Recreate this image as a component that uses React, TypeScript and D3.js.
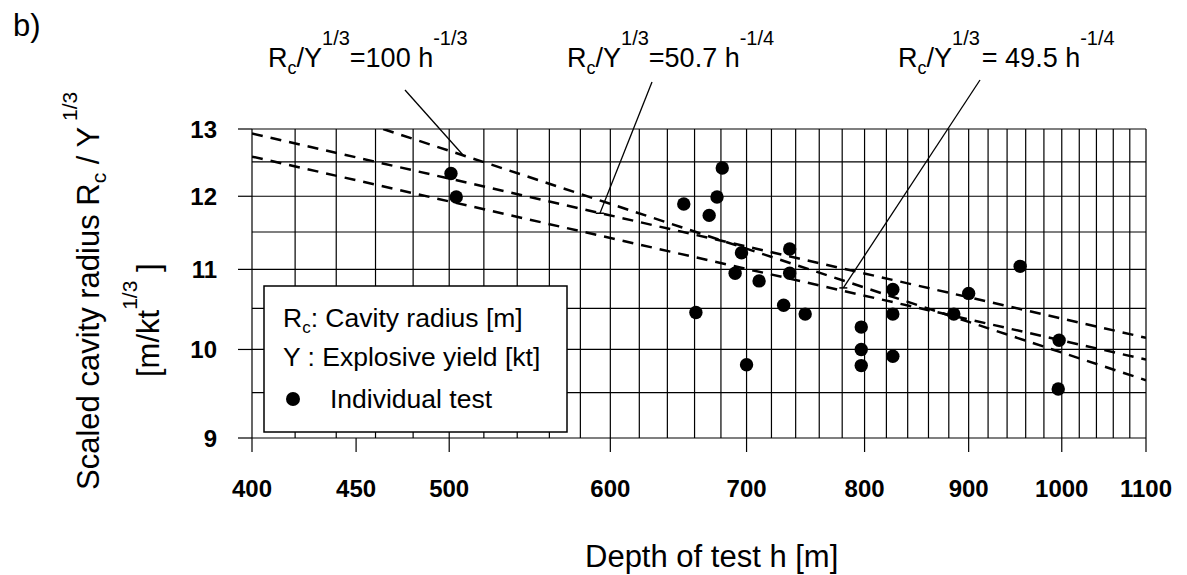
import React from 'react';
import * as d3 from 'd3';

const W = 1187;
const H = 575;

// axis ticks (labels)
const depthTicks = [400, 450, 500, 600, 700, 800, 900, 1000, 1100];
const radiusTicks = [9, 10, 11, 12, 13];
const depthGrid = d3.range(400, 1101, 20);
const radiusGrid = d3.range(9, 13.01, 0.5);

// individual tests
const testDepth = [501, 504, 652, 681, 677, 671, 696, 735, 691, 735, 710, 661, 730, 748, 700, 797, 797, 797, 826, 826, 826, 885, 900, 954, 997, 996];
const testRadius = [12.33, 11.99, 11.89, 12.41, 11.99, 11.73, 11.22, 11.27, 10.95, 10.95, 10.85, 10.45, 10.54, 10.43, 9.82, 10.27, 10.0, 9.81, 10.74, 10.43, 9.92, 10.43, 10.69, 11.04, 10.11, 9.54];

// fitted relations (end points)
const fitConst = ['100', '50.7', '49.5'];
const fitExp = ['-1/3', '-1/4', '-1/4'];
const fitDepth = [[464, 1100], [400, 1100], [400, 1100]];
const fitRadius = [[13.0, 9.64], [12.93, 10.14], [12.58, 9.88]];
// where each leader line touches its relation
const leaderDepth = [508, 593, 781];
const leaderRadius = [12.6, 11.76, 10.76];

const FONT = '"Liberation Sans", Arial, Helvetica, sans-serif';

export default function App() {
  const x = d3.scaleLog().domain([400, 1100]).range([252, 1146]);
  const y = d3.scaleLog().domain([9, 13]).range([438, 129]);
  const [x0, x1] = x.range();
  const [y0, y1] = y.range();

  const line = d3
    .line<[number, number]>()
    .x((d) => x(d[0]))
    .y((d) => y(d[1]));

  const labelPos = [
    { lx: 268, ly: 67, sx: 405, sy: 90 },
    { lx: 567, ly: 67, sx: 652, sy: 82 },
    { lx: 898, ly: 67, sx: 980, sy: 80 },
  ];

  return (
    <div style={{ position: 'absolute', left: 0, top: 0 }}>
      <svg width={W} height={H} style={{ display: 'block', background: '#fff' }} fontFamily={FONT}>
        <defs>
          <clipPath id="plotClip">
            <rect x={x0} y={y1} width={x1 - x0} height={y0 - y1} />
          </clipPath>
        </defs>

        <text x={13} y={36} fontSize={31}>b)</text>

        {/* grid */}
        <g stroke="#000" strokeWidth={1.2}>
          {depthGrid.map((d) => (
            <line key={'v' + d} x1={x(d)} x2={x(d)} y1={y1} y2={y0} />
          ))}
          {radiusGrid.map((r) => (
            <line key={'h' + r} x1={x0} x2={x1} y1={y(r)} y2={y(r)} />
          ))}
          {depthTicks.map((d) => (
            <line key={'tx' + d} x1={x(d)} x2={x(d)} y1={y0} y2={y0 + 14} />
          ))}
          {radiusTicks.map((r) => (
            <line key={'ty' + r} x1={x0 - 14} x2={x0} y1={y(r)} y2={y(r)} />
          ))}
        </g>

        {/* tick labels */}
        <g fontSize={24} fontWeight="bold" fill="#000">
          {depthTicks.map((d) => (
            <text key={'lx' + d} x={x(d)} y={497} textAnchor="middle">{d}</text>
          ))}
          {radiusTicks.map((r) => (
            <text key={'ly' + r} x={217} y={y(r) + 8.5} textAnchor="end">{r}</text>
          ))}
        </g>

        {/* fitted relations */}
        <g clipPath="url(#plotClip)" fill="none" stroke="#000" strokeWidth={2.5} strokeDasharray="11 8">
          {fitDepth.map((hs, i) => (
            <path key={'fit' + i} d={line(hs.map((h, j) => [h, fitRadius[i][j]] as [number, number])) || ''} />
          ))}
        </g>

        {/* points */}
        <g fill="#000">
          {testDepth.map((h, i) => (
            <circle key={'p' + i} cx={x(h)} cy={y(testRadius[i])} r={6.7} />
          ))}
        </g>

        {/* legend */}
        <rect x={264} y={286} width={303} height={146} fill="#fff" stroke="#000" strokeWidth={1.5} />
        <text x={283} y={327} fontSize={26.5}>
          R<tspan dy={6} fontSize={17}>c</tspan><tspan dy={-6}>: Cavity radius [m]</tspan>
        </text>
        <text x={283} y={366} fontSize={26.5}>Y : Explosive yield [kt]</text>
        <circle cx={293} cy={399} r={7} fill="#000" />
        <text x={330} y={408} fontSize={26.5}>Individual test</text>

        {/* annotations */}
        {labelPos.map((p, i) => {
          const ex = x(leaderDepth[i]);
          const ey = y(leaderRadius[i]);
          return (
            <g key={'ann' + i}>
              <line x1={p.sx} y1={p.sy} x2={ex} y2={ey} stroke="#000" strokeWidth={1.3} />
              {i > 0 && <line x1={ex - 4} x2={ex + 4} y1={ey} y2={ey} stroke="#000" strokeWidth={1.5} />}
              <text x={p.lx} y={p.ly} fontSize={27}>
                R<tspan dy={7} fontSize={18}>c</tspan>
                <tspan dy={-7}>/Y</tspan>
                <tspan dy={-22} fontSize={20}>1/3</tspan>
                <tspan dy={22} dx={i === 2 ? 2 : 0}>{(i === 2 ? '= ' : '=') + fitConst[i] + ' h'}</tspan>
                <tspan dy={-22} fontSize={20}>{fitExp[i]}</tspan>
              </text>
            </g>
          );
        })}

        {/* axis titles */}
        <text x={585} y={567} fontSize={31}>Depth of test h [m]</text>
        <text transform="translate(99,490) rotate(-90)" fontSize={31}>
          Scaled cavity radius R<tspan dy={7} fontSize={21}>c</tspan>
          <tspan dy={-7}>{'\u00a0/ Y'}</tspan>
          <tspan dy={-22} fontSize={21}>{'\u00a01/3'}</tspan>
        </text>
        <text transform="translate(159,377) rotate(-90)" fontSize={31}>
          [m/kt<tspan dy={-22} fontSize={21}>1/3</tspan>
          <tspan dy={22}>{'\u00a0]'}</tspan>
        </text>
      </svg>
    </div>
  );
}
